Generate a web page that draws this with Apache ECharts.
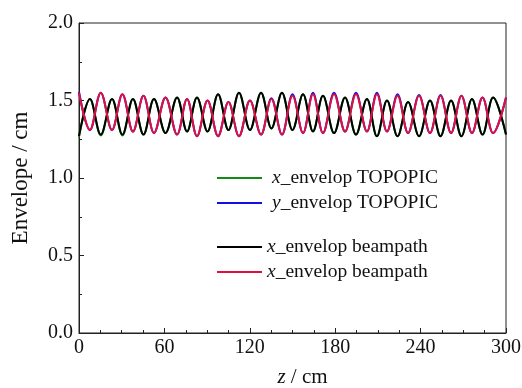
<!DOCTYPE html>
<html>
<head>
<meta charset="utf-8">
<script src="https://cdn.jsdelivr.net/npm/echarts@6/dist/echarts.min.js"></script>
<style>
  html, body { margin: 0; padding: 0; background: #fff; }
  #chart { width: 522px; height: 388px; }
</style>
</head>
<body>
<div id="chart"></div>
<script>
// z positions of the read extrema (peaks / troughs), cm
const zExt = [0, 7.7, 15.3, 23.2, 30.5, 37.9, 45.3, 52.7, 60.8, 68.9, 75.9, 82.9, 90.3, 97.7,
  105.0, 112.4, 120.1, 127.9, 135.2, 142.6, 150.0, 157.4, 164.4, 171.4, 179.2, 186.9, 194.6,
  202.3, 209.3, 216.4, 223.8, 231.2, 238.9, 246.6, 254.0, 261.4, 268.7, 276.1, 283.5, 290.9, 300];

// x envelope, beampath (black)
const xBeam = [1.27, 1.51, 1.28, 1.51, 1.28, 1.51, 1.28, 1.51, 1.29, 1.52, 1.30, 1.52, 1.30, 1.54,
  1.31, 1.55, 1.31, 1.55, 1.32, 1.55, 1.31, 1.54, 1.30, 1.53, 1.29, 1.52, 1.28, 1.51, 1.27, 1.50,
  1.27, 1.49, 1.27, 1.50, 1.27, 1.50, 1.27, 1.51, 1.28, 1.52, 1.28];
// x envelope, TOPOPIC (green)
const xTopo = [1.265, 1.51, 1.275, 1.51, 1.275, 1.51, 1.28, 1.51, 1.29, 1.52, 1.30, 1.52, 1.30, 1.54,
  1.31, 1.55, 1.31, 1.55, 1.32, 1.55, 1.31, 1.54, 1.30, 1.53, 1.29, 1.52, 1.28, 1.51, 1.27, 1.50,
  1.27, 1.49, 1.27, 1.50, 1.27, 1.50, 1.27, 1.51, 1.28, 1.52, 1.28];
// y envelope, beampath (red)
const yBeam = [1.55, 1.31, 1.55, 1.31, 1.54, 1.30, 1.53, 1.29, 1.52, 1.28, 1.51, 1.27, 1.50, 1.27,
  1.49, 1.27, 1.50, 1.28, 1.51, 1.28, 1.53, 1.29, 1.54, 1.29, 1.54, 1.30, 1.54, 1.30, 1.54, 1.30,
  1.53, 1.29, 1.53, 1.29, 1.53, 1.29, 1.53, 1.29, 1.52, 1.29, 1.52];
// y envelope, TOPOPIC (blue)
const yTopo = [1.555, 1.31, 1.55, 1.31, 1.54, 1.30, 1.53, 1.29, 1.52, 1.28, 1.51, 1.27, 1.50, 1.27,
  1.49, 1.27, 1.50, 1.28, 1.515, 1.28, 1.54, 1.29, 1.55, 1.29, 1.55, 1.30, 1.55, 1.30, 1.55, 1.30,
  1.54, 1.29, 1.535, 1.29, 1.535, 1.29, 1.53, 1.29, 1.52, 1.29, 1.52];

const legendText = {
  xTopo: '{i|x}_envelop TOPOPIC',
  yTopo: '{i|y}_envelop TOPOPIC',
  xBeam: '{i|x}_envelop beampath',
  yBeam: '{i|x}_envelop beampath'
};

const FONT = 'Liberation Serif';
const pairs = vals => zExt.map((z, i) => [z, vals[i]]);

const chart = echarts.init(document.getElementById('chart'), null, { renderer: 'canvas' });

const legendBase = {
  orient: 'vertical',
  left: 217,
  padding: 0,
  itemWidth: 45,
  itemHeight: 2,
  itemGap: 5,
  icon: 'rect',
  formatter: name => legendText[name],
  textStyle: {
    fontFamily: FONT, fontSize: 19.5, color: '#111', lineHeight: 20,
    rich: { i: { fontFamily: FONT, fontSize: 19.5, fontStyle: 'italic', color: '#111' } }
  }
};

const lineSeries = (name, vals, color) => ({
  name,
  type: 'line',
  data: pairs(vals),
  smooth: 0.36,
  showSymbol: false,
  color,
  lineStyle: { color, width: 2 }
});

chart.setOption({
  animation: false,
  backgroundColor: '#fff',
  grid: {
    left: 79, right: 16, top: 23, bottom: 55, outerBoundsMode: 'none',
    show: true, borderColor: '#222', borderWidth: 1
  },
  legend: [
    Object.assign({}, legendBase, {
      top: 168, data: ['xTopo', 'yTopo'],
      textStyle: Object.assign({}, legendBase.textStyle, { padding: [0, 0, 0, 5] })
    }),
    Object.assign({}, legendBase, { top: 237, data: ['xBeam', 'yBeam'] })
  ],
  xAxis: {
    type: 'value', min: 0, max: 300, interval: 60,
    name: '{i|z} / cm', nameLocation: 'middle', nameGap: 34,
    nameTextStyle: {
      fontFamily: FONT, fontSize: 21, color: '#111', padding: [0, 0, 0, 20],
      rich: { i: { fontFamily: FONT, fontSize: 21, fontStyle: 'italic', color: '#111' } }
    },
    axisLine: { lineStyle: { color: '#222', width: 1 } },
    axisTick: { inside: true, length: 5, lineStyle: { color: '#222' } },
    minorTick: { show: true, splitNumber: 4, length: 3, lineStyle: { color: '#222' } },
    axisLabel: { margin: 5, fontFamily: FONT, fontSize: 20, color: '#111' },
    splitLine: { show: false }
  },
  yAxis: {
    type: 'value', min: 0, max: 2, interval: 0.5,
    name: 'Envelope / cm', nameLocation: 'middle', nameGap: 47,
    nameTextStyle: { fontFamily: FONT, fontSize: 23, color: '#111' },
    axisLine: { show: true, lineStyle: { color: '#222', width: 1 } },
    axisTick: { inside: true, length: 5, lineStyle: { color: '#222' } },
    minorTick: { show: true, splitNumber: 2, length: 3, lineStyle: { color: '#222' } },
    axisLabel: { margin: 6, fontFamily: FONT, fontSize: 20, color: '#111', formatter: v => v.toFixed(1) },
    splitLine: { show: false }
  },
  series: [
    lineSeries('xTopo', xTopo, '#138a13'),
    lineSeries('yTopo', yTopo, '#1010e0'),
    lineSeries('xBeam', xBeam, '#000000'),
    lineSeries('yBeam', yBeam, '#e0103c')
  ]
});
</script>
</body>
</html>
